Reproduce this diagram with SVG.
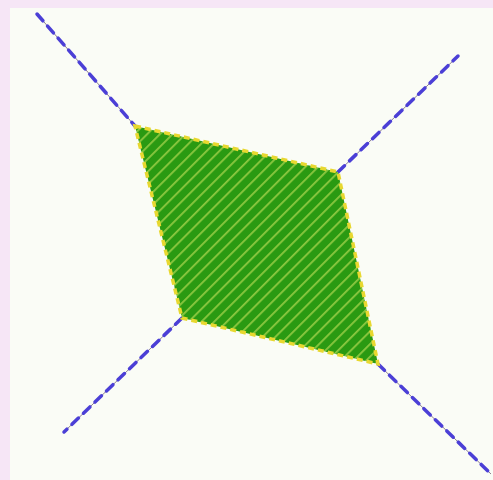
<svg xmlns="http://www.w3.org/2000/svg" width="493" height="480" viewBox="0 0 493 480">
<defs>
<style>
.edge{stroke:#4b3fd6;stroke-width:3.5;stroke-dasharray:9 7;stroke-linecap:round;fill:none}
.edgebase{stroke:#8a7f90;stroke-width:1;fill:none}
.shape{fill:url(#hatch);stroke:#e8d830;stroke-width:3.5;stroke-dasharray:6 4}
</style>
<pattern id="hatch" patternUnits="userSpaceOnUse" width="9" height="9" patternTransform="rotate(-45)">
<rect width="9" height="9" fill="#2a9a12"/>
<rect y="0" width="9" height="1.8" fill="#8cc840"/>
</pattern>
</defs>
<rect x="0" y="0" width="493" height="480" fill="#f6e6f6"/>
<rect x="10" y="8" width="483" height="472" fill="#fafcf6"/>
<g id="connectors">
<line class="edgebase" x1="37" y1="14" x2="135" y2="126"/>
<line class="edge" x1="37" y1="14" x2="135" y2="126"/>
<line class="edgebase" x1="338" y1="172" x2="458" y2="56"/>
<line class="edge" x1="338" y1="172" x2="458" y2="56"/>
<line class="edgebase" x1="182" y1="318" x2="64" y2="432"/>
<line class="edge" x1="182" y1="318" x2="64" y2="432"/>
<line class="edgebase" x1="378" y1="364" x2="491" y2="474"/>
<line class="edge" x1="378" y1="364" x2="491" y2="474"/>
</g>
<g id="shape">
<polygon class="shape" points="135,126 338,172 378,364 182,318"/>
</g>
</svg>
